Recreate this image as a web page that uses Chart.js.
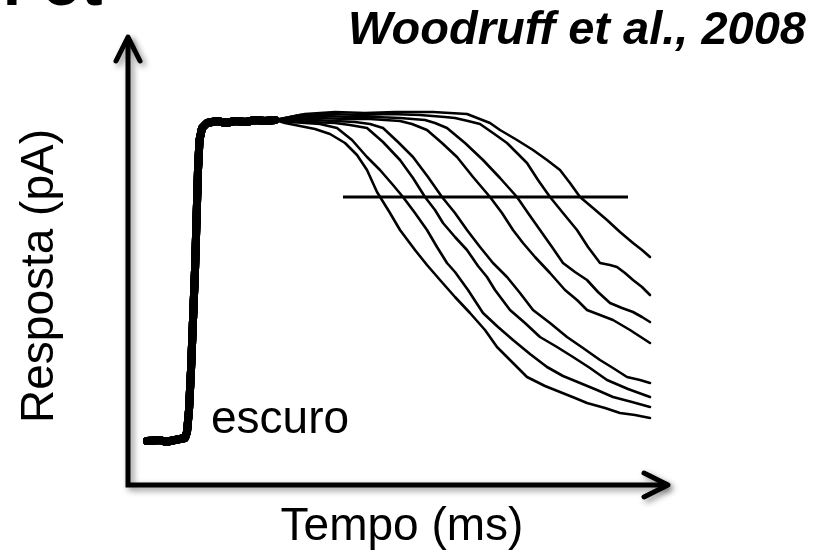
<!DOCTYPE html>
<html>
<head>
<meta charset="utf-8">
<script src="https://cdn.jsdelivr.net/npm/chart.js@4.4.1/dist/chart.umd.min.js"></script>
<style>
html,body{margin:0;padding:0;background:#fff;}
#wrap{width:825px;height:553px;position:relative;}
</style>
</head>
<body>
<div id="wrap"><canvas id="c" width="825" height="553"></canvas></div>
<script>
// ---- data (time in ms, response in pA; arbitrary units) ----
const timeRange = [0, 540];
const respRange = [0, 448];

// shared dark baseline, step and early plateau (all traces overlap here)
const onset = [
  {x:19,y:44},{x:32,y:45},{x:38,y:43},{x:42,y:44},{x:52,y:46},{x:57,y:47},{x:59,y:53},
  {x:61,y:75},{x:63,y:115},{x:65,y:165},{x:67,y:215},{x:68.5,y:265},{x:70,y:315},
  {x:71.5,y:345},{x:74,y:357},{x:79,y:362},{x:89,y:364},{x:98,y:362},{x:107,y:364},
  {x:118,y:363},{x:127,y:365},{x:137,y:364},{x:147,y:365}
];

const tail1 = [
  {x:157,y:362},{x:172,y:359},{x:187,y:356},{x:202,y:351},{x:217,y:342},{x:229,y:330},
  {x:239,y:315},{x:249,y:293},{x:262,y:272},{x:272,y:255},{x:287,y:235},{x:299,y:220},
  {x:312,y:205},{x:327,y:188},{x:342,y:172},{x:357,y:155},{x:369,y:138},{x:384,y:123},
  {x:399,y:108},{x:417,y:99},{x:432,y:93},{x:447,y:87},{x:459,y:82},{x:477,y:77},
  {x:492,y:72},{x:507,y:70},{x:522,y:67}
];
const tail2 = [
  {x:162,y:363},{x:177,y:362},{x:192,y:361},{x:209,y:357},{x:224,y:345},{x:239,y:328},
  {x:252,y:315},{x:265,y:300},{x:275,y:288},{x:287,y:272},{x:299,y:255},{x:309,y:238},
  {x:319,y:222},{x:327,y:213},{x:340,y:195},{x:355,y:172},{x:370,y:158},{x:385,y:145},
  {x:402,y:131},{x:419,y:118},{x:435,y:109},{x:452,y:102},{x:469,y:95},{x:485,y:88},
  {x:504,y:83},{x:522,y:78}
];
const tail3 = [
  {x:162,y:365},{x:182,y:363},{x:207,y:362},{x:222,y:360},{x:239,y:357},{x:255,y:343},
  {x:272,y:325},{x:285,y:307},{x:297,y:288},{x:307,y:275},{x:315,y:262},{x:327,y:248},
  {x:339,y:235},{x:350,y:219},{x:359,y:208},{x:367,y:195},{x:382,y:175},{x:397,y:162},
  {x:412,y:148},{x:429,y:138},{x:445,y:128},{x:462,y:117},{x:479,y:105},{x:500,y:96},
  {x:522,y:88}
];
const tail4 = [
  {x:164,y:366},{x:187,y:365},{x:207,y:364},{x:227,y:363},{x:242,y:361},{x:255,y:357},
  {x:270,y:343},{x:285,y:328},{x:300,y:308},{x:314,y:288},{x:327,y:272},{x:339,y:255},
  {x:352,y:238},{x:365,y:222},{x:379,y:208},{x:392,y:192},{x:405,y:175},{x:422,y:162},
  {x:439,y:148},{x:455,y:137},{x:472,y:125},{x:485,y:117},{x:499,y:108},{x:512,y:105},
  {x:522,y:102}
];
const tail5 = [
  {x:167,y:367},{x:192,y:367},{x:217,y:366},{x:242,y:366},{x:272,y:364},{x:284,y:361},
  {x:299,y:355},{x:314,y:342},{x:329,y:328},{x:345,y:308},{x:362,y:288},{x:374,y:272},
  {x:385,y:255},{x:395,y:242},{x:407,y:228},{x:422,y:212},{x:437,y:195},{x:449,y:185},
  {x:459,y:175},{x:472,y:170},{x:485,y:165},{x:502,y:155},{x:522,y:142}
];
const tail6 = [
  {x:172,y:369},{x:197,y:369},{x:222,y:368},{x:247,y:368},{x:272,y:367},{x:297,y:365},
  {x:307,y:362},{x:319,y:357},{x:337,y:342},{x:355,y:325},{x:372,y:307},{x:389,y:288},
  {x:400,y:272},{x:412,y:255},{x:424,y:238},{x:435,y:222},{x:447,y:213},{x:459,y:205},
  {x:470,y:193},{x:482,y:182},{x:494,y:177},{x:505,y:173},{x:514,y:168},{x:522,y:163}
];
const tail7 = [
  {x:172,y:370},{x:202,y:371},{x:232,y:370},{x:262,y:371},{x:292,y:370},{x:317,y:368},
  {x:327,y:367},{x:340,y:364},{x:352,y:361},{x:365,y:352},{x:379,y:342},{x:389,y:332},
  {x:399,y:322},{x:410,y:305},{x:422,y:288},{x:435,y:272},{x:449,y:255},{x:460,y:238},
  {x:472,y:222},{x:482,y:220},{x:489,y:218},{x:497,y:212},{x:505,y:205},{x:514,y:198},
  {x:522,y:190}
];
const tail8 = [
  {x:177,y:371},{x:207,y:373},{x:237,y:372},{x:267,y:373},{x:305,y:373},{x:339,y:371},
  {x:362,y:362},{x:372,y:355},{x:389,y:345},{x:405,y:335},{x:419,y:325},{x:432,y:315},
  {x:442,y:302},{x:452,y:288},{x:465,y:277},{x:479,y:265},{x:492,y:253},{x:505,y:242},
  {x:514,y:235},{x:522,y:228}
];
const tails = [tail1, tail2, tail3, tail4, tail5, tail6, tail7, tail8];

// horizontal criterion line
const criterion = [{x:215,y:288},{x:500,y:288}];

// texts
const titleText = 'Woodruff et al., 2008';
const xTitle = 'Tempo (ms)';
const yTitle = 'Resposta (pA)';
const darkLabel = 'escuro';
const headingFragment = 'Fot';

// ---- chart ----
const FONT = '"Liberation Sans", Arial, Helvetica, sans-serif';
const onsetEnd = onset[onset.length - 1].x;

const datasets = tails.map((t, i) => ({
  label: 'traço ' + (i + 1),
  data: onset.concat(t),
  borderColor: '#000',
  borderWidth: 2.6,
  pointRadius: 0,
  tension: 0,
  fill: false,
  borderJoinStyle: 'round',
  borderCapStyle: 'round',
  segment: {
    borderWidth: ctx => (ctx.p1.parsed.x <= onsetEnd ? 8 : 2.6)
  }
}));
datasets.push({
  label: 'critério',
  data: criterion,
  borderColor: '#000',
  borderWidth: 3,
  pointRadius: 0,
  fill: false
});

const decor = {
  id: 'decor',
  afterDraw(chart) {
    const {ctx} = chart;
    const xs = chart.scales.x, ys = chart.scales.y;
    const x0 = xs.getPixelForValue(timeRange[0]);
    const x1 = xs.getPixelForValue(timeRange[1]);
    const y0 = ys.getPixelForValue(respRange[0]);
    const y1 = ys.getPixelForValue(respRange[1]);
    ctx.save();
    // axes arrows with soft shadow
    ctx.shadowColor = 'rgba(0,0,0,0.45)';
    ctx.shadowBlur = 6;
    ctx.shadowOffsetX = 3;
    ctx.shadowOffsetY = 3;
    ctx.strokeStyle = '#000';
    ctx.lineWidth = 5;
    ctx.lineJoin = 'miter';
    ctx.lineCap = 'butt';
    ctx.beginPath();
    ctx.moveTo(x0, y1 + 2);
    ctx.lineTo(x0, y0);
    ctx.lineTo(x1 - 2, y0);
    ctx.stroke();
    ctx.lineJoin = 'round';
    ctx.lineCap = 'round';
    ctx.beginPath();
    ctx.moveTo(x0 - 12, y1 + 24);
    ctx.lineTo(x0, y1);
    ctx.lineTo(x0 + 12, y1 + 24);
    ctx.stroke();
    ctx.beginPath();
    ctx.moveTo(x1 - 24, y0 - 12);
    ctx.lineTo(x1, y0);
    ctx.lineTo(x1 - 24, y0 + 12);
    ctx.stroke();
    ctx.restore();

    ctx.save();
    ctx.fillStyle = '#000';
    // heading fragment cut by the top edge
    ctx.font = 'bold 64px ' + FONT;
    ctx.textAlign = 'left';
    ctx.textBaseline = 'alphabetic';
    ctx.fillText(headingFragment, 3, 5);
    // reference
    ctx.font = 'italic bold 47px ' + FONT;
    ctx.textAlign = 'right';
    ctx.fillText(titleText, 806, 44);
    // axis titles
    ctx.font = '46px ' + FONT;
    ctx.textAlign = 'center';
    ctx.fillText(xTitle, 402, 540);
    ctx.save();
    ctx.translate(53, 276);
    ctx.rotate(-Math.PI / 2);
    ctx.fillText(yTitle, 0, 0);
    ctx.restore();
    // dark label
    ctx.textAlign = 'left';
    ctx.fillText(darkLabel, 211, 433);
    ctx.restore();
  }
};

new Chart(document.getElementById('c'), {
  type: 'line',
  data: {datasets},
  options: {
    responsive: false,
    animation: false,
    events: [],
    layout: {padding: {left: 128, right: 157, top: 37, bottom: 68}},
    plugins: {legend: {display: false}, tooltip: {enabled: false}, title: {display: false}},
    scales: {
      x: {type: 'linear', display: false, min: timeRange[0], max: timeRange[1]},
      y: {type: 'linear', display: false, min: respRange[0], max: respRange[1]}
    }
  },
  plugins: [decor]
});
</script>
</body>
</html>
